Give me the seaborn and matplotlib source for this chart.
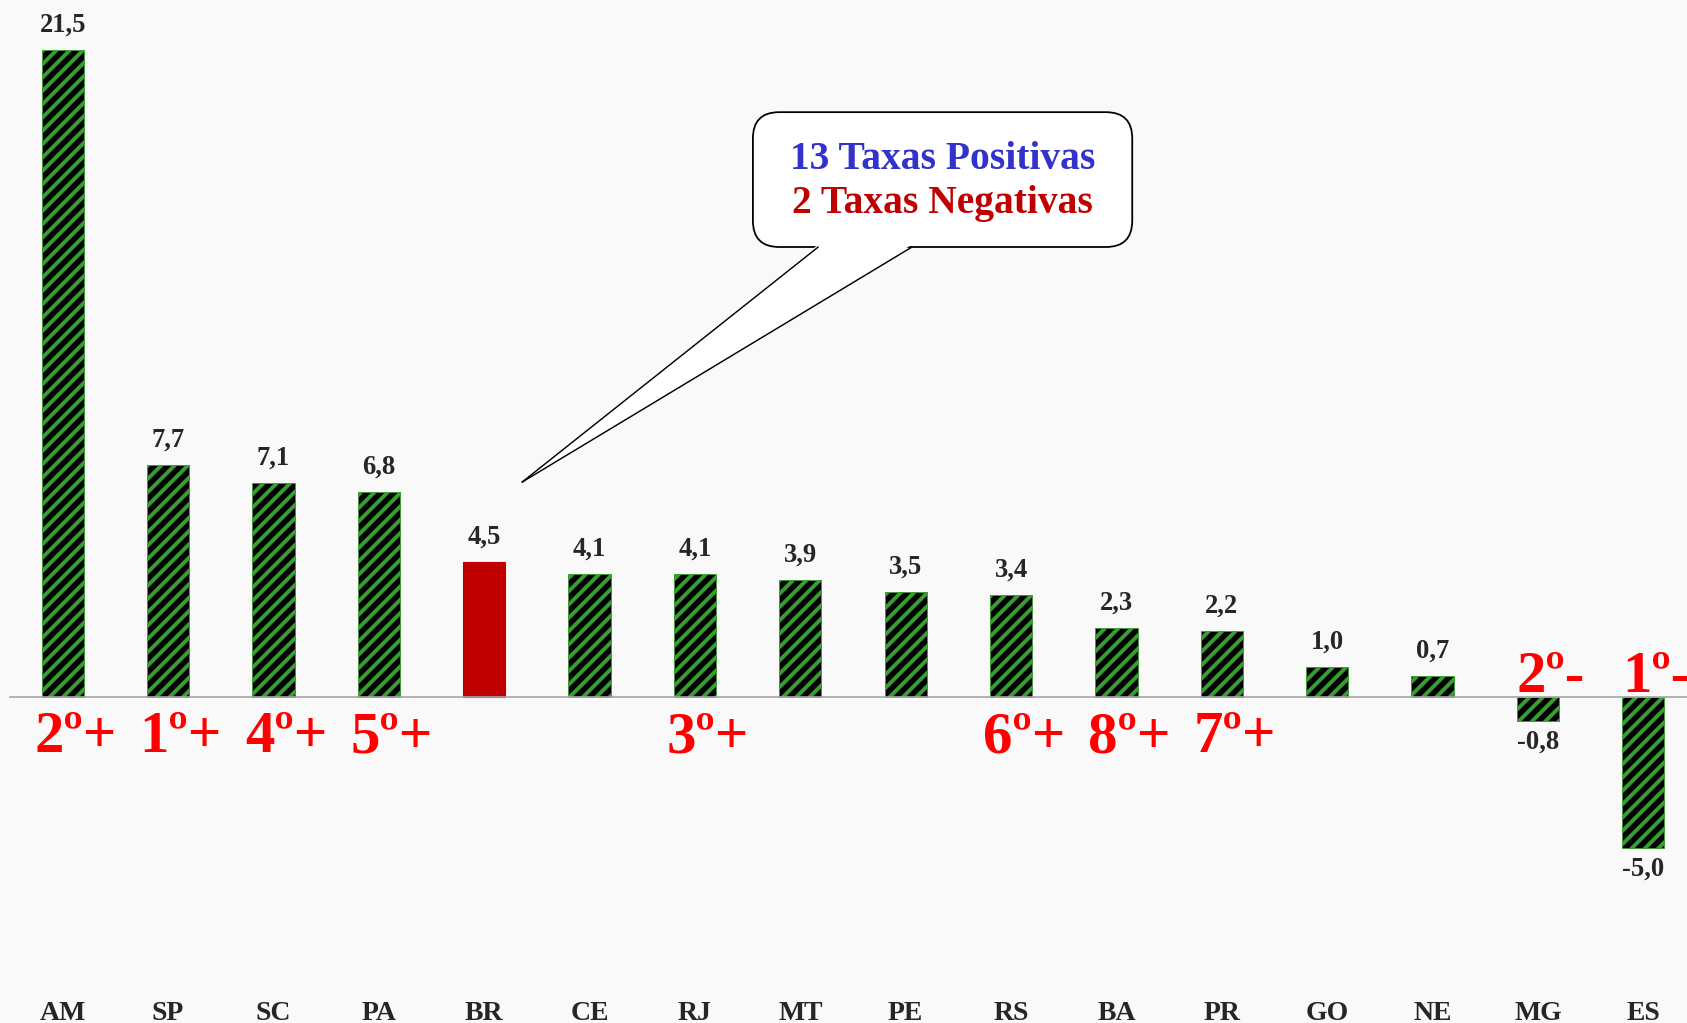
import numpy as np
import matplotlib.pyplot as plt
import seaborn as sns
from matplotlib.patches import FancyBboxPatch, Polygon

# Data
states = ['AM', 'SP', 'SC', 'PA', 'BR', 'CE', 'RJ', 'MT', 'PE', 'RS', 'BA', 'PR', 'GO', 'NE', 'MG', 'ES']
rates = [21.5, 7.7, 7.1, 6.8, 4.5, 4.1, 4.1, 3.9, 3.5, 3.4, 2.3, 2.2, 1.0, 0.7, -0.8, -5.0]
ranks = ['2º+', '1º+', '4º+', '5º+', '', '', '3º+', '', '', '6º+', '8º+', '7º+', '', '', '2º-', '1º-']
highlight = 'BR'
callout_pos = '13 Taxas Positivas'
callout_neg = '2 Taxas Negativas'

sns.set_style('white')
plt.rcParams['font.family'] = ['Liberation Serif', 'DejaVu Serif']
plt.rcParams['hatch.linewidth'] = 3.5

bg = '#f9f9f9'
green = '#3a9d34'
red = '#c00000'
axis_gray = '#a6a6a6'

fig = plt.figure(figsize=(1687 / 80, 1023 / 80), dpi=80, facecolor=bg)
ax = fig.add_axes([10 / 1687, 0, 1686 / 1687, 1])
ax.set_facecolor(bg)

sns.barplot(x=states, y=rates, color='black', width=0.4, saturation=1, ax=ax)

# hatch the state bars, plain red for Brazil
for name, bar in zip(states, ax.patches):
    if name == highlight:
        bar.set_facecolor(red)
        bar.set_edgecolor(red)
    else:
        bar.set_facecolor('black')
        bar.set_edgecolor(green)
        bar.set_hatch('//')
        bar.set_linewidth(0.8)

ax.set_xlim(-0.5, len(states) - 0.5)
ax.set_ylim(-(1023 - 697) / 30.1, 697 / 30.1)
ax.set_xlabel('')
ax.set_ylabel('')
ax.set_yticks([])

# zero line with ticks at category boundaries
for side in ['left', 'top', 'right']:
    ax.spines[side].set_visible(False)
ax.spines['bottom'].set_position(('data', 0))
ax.spines['bottom'].set_color(axis_gray)
ax.spines['bottom'].set_linewidth(1.5)
ax.set_xticks([])
ax.set_xticks(np.arange(len(states) + 1) - 0.5, minor=True)
ax.tick_params(axis='x', which='minor', direction='out', length=8, width=1.5, color=axis_gray)

# value labels
labels = [f'{v:.1f}'.replace('.', ',') for v in rates]
pos_labels = [l if v >= 0 else '' for l, v in zip(labels, rates)]
neg_labels = [l if v < 0 else '' for l, v in zip(labels, rates)]
ax.bar_label(ax.containers[0], labels=pos_labels, padding=11, fontsize=24, fontweight='bold')
ax.bar_label(ax.containers[0], labels=neg_labels, padding=8, fontsize=24, fontweight='bold')

# category names at the bottom
for i, s in enumerate(states):
    ax.text(i, 0.003, s, transform=ax.get_xaxis_transform(), ha='center', va='baseline',
            fontsize=25, fontweight='bold')

# ranking marks
for i, (r, v) in enumerate(zip(ranks, rates)):
    if not r:
        continue
    y = 0.15 if v < 0 else -1.83
    ax.text(i + 0.12, y, r, ha='center', va='baseline', fontsize=53,
            fontweight='bold', color='#ff0000')

# callout balloon (box + tail pointing at BR)
box_x0, box_x1 = 6.55, 10.15
box_y0, box_y1 = 14.95, 19.43
tail_base = (7.17, 8.06)
tail_tip = (4.36, 7.14)
aspect = 105.4 / 30.1

box = FancyBboxPatch((box_x0, box_y0), box_x1 - box_x0, box_y1 - box_y0,
                     boxstyle='round,pad=0,rounding_size=0.25', mutation_aspect=aspect,
                     fc='white', ec='black', lw=1.6, zorder=5)
ax.add_patch(box)
tail = Polygon([(tail_base[0], box_y0 + 0.08), (tail_base[1], box_y0 + 0.08), tail_tip],
               closed=True, fc='white', ec='none', zorder=6)
ax.add_patch(tail)
for bx in tail_base:
    ax.plot([bx, tail_tip[0]], [box_y0, tail_tip[1]], color='black', lw=1.3, zorder=7)

cx = (box_x0 + box_x1) / 2
ax.text(cx, 17.87, callout_pos, ha='center', va='center', fontsize=35.5,
        fontweight='bold', color='#3333cc', zorder=8)
ax.text(cx, 16.38, callout_neg, ha='center', va='center', fontsize=35.5,
        fontweight='bold', color=red, zorder=8)

fig.savefig('out.png', dpi=80, facecolor=bg)
